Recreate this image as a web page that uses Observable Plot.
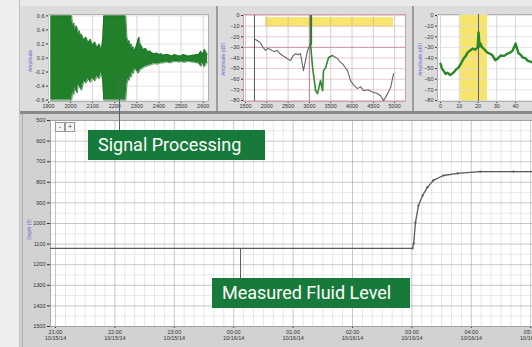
<!DOCTYPE html>
<html><head><meta charset="utf-8">
<script src="https://cdn.jsdelivr.net/npm/d3@7"></script>
<script src="https://cdn.jsdelivr.net/npm/@observablehq/plot@0.6"></script>
<style>
body{margin:0;width:532px;height:347px;overflow:hidden;background:#e9e9e9;position:relative;font-family:Roboto,"Noto Sans",sans-serif}
.abs{position:absolute}
.tag{position:absolute;background:#187a3a;color:#fff;font-family:Roboto,sans-serif;font-size:18px;line-height:30px;height:30px;box-sizing:border-box;padding-left:10px;white-space:nowrap}
.ylab{position:absolute;color:#6a6ad0;font-family:Arial,sans-serif;font-size:5px;transform:rotate(-90deg);transform-origin:left top;white-space:nowrap}
</style></head><body>
<div class="abs" style="left:0;top:0;width:19px;height:347px;background:#ededed;border-right:1px solid #c2c2c2"></div>
<div class="abs" style="left:20px;top:6px;width:512px;height:106px;background:#dcdcdc"></div>
<div class="abs" style="left:216px;top:6px;width:2px;height:106px;background:#9c9c9c"></div>
<div class="abs" style="left:412px;top:6px;width:2px;height:106px;background:#9c9c9c"></div>
<div class="abs" style="left:20px;top:111px;width:512px;height:3px;background:#8a8a8a"></div>
<div class="abs" style="left:20px;top:114px;width:512px;height:233px;background:#d2d2d2"></div>
<div class="abs" style="left:22px;top:114px;width:1px;height:233px;background:#a8a8a8"></div>
<div id="p1" class="abs" style="left:20px;top:8px"></div>
<div id="p2" class="abs" style="left:218px;top:8px"></div>
<div id="p3" class="abs" style="left:414px;top:8px"></div>
<div id="main" class="abs" style="left:22px;top:112px"></div>
<div class="abs" style="left:55px;top:122px;width:8px;height:8px;border:1px solid #999;background:#f4f4f4;font:7px/8px Arial;text-align:center;color:#444">-</div>
<div class="abs" style="left:65px;top:122px;width:8px;height:8px;border:1px solid #999;background:#f4f4f4;font:7px/8px Arial;text-align:center;color:#444">+</div>
<div class="abs" style="left:119px;top:77px;width:1px;height:54px;background:#50626e"></div>
<div class="abs" style="left:240px;top:248px;width:1px;height:31px;background:#50626e"></div>
<div class="ylab" style="left:27px;top:72px">Amplitude</div>
<div class="ylab" style="left:220px;top:76px">Amplitude (dB)</div>
<div class="ylab" style="left:417px;top:76px">Amplitude (dB)</div>
<div class="ylab" style="left:26px;top:240px">Depth (ft)</div>
<div class="tag" style="left:88px;top:130px;width:177px">Signal Processing</div>
<div class="tag" style="left:212px;top:278px;width:198px">Measured Fluid Level</div>
<script>
// ---------- Main chart: fluid level over time ----------
const mainHours = [-0.084, 1.0, 2.0, 3.0, 4.0, 5.0, 5.6, 6.01, 6.03, 6.06, 6.11, 6.18, 6.26, 6.36, 6.53, 6.77, 7.15, 7.71, 8.03];
const mainDepth = [1121, 1121, 1121, 1121, 1121, 1121, 1121, 1121, 1097, 995, 913, 864, 825, 791, 767, 757, 748, 748, 748];
const mainTicks = [0, 1, 2, 3, 4, 5, 6, 7, 8];
const mainTickLabels = ["21:00\n10/15/14","22:00\n10/15/14","23:00\n10/15/14","00:00\n10/16/14","01:00\n10/16/14","02:00\n10/16/14","03:00\n10/16/14","04:00\n10/16/14","05:00\n10/16/14"];
const depthTicks = [500, 600, 700, 800, 900, 1000, 1100, 1200, 1300, 1400, 1500];

// ---------- Panel 1: raw acoustic signal envelope ----------
const sigX  = [0.1, 0.3, 0.5, 0.7, 0.9, 1.05, 1.1, 1.15, 1.2, 1.25, 1.3, 1.35, 1.4, 1.45, 1.5, 1.6, 1.7, 1.8, 1.9, 2.0, 2.1, 2.2, 2.3, 2.4, 2.46, 2.5, 3.0, 3.5, 3.55, 3.6, 3.65, 3.7, 3.75, 3.8, 3.85, 3.9, 4.0, 4.05, 4.1, 4.15, 4.2, 4.3, 4.4, 4.5, 4.6, 4.7, 4.8, 4.9, 5.0, 5.1, 5.2, 5.3, 5.4, 5.5, 5.6, 5.7, 5.8, 5.9, 6.0, 6.1, 6.2, 6.3, 6.4, 6.5, 6.6, 6.7, 6.8, 6.85, 6.9, 6.95, 7.0, 7.05, 7.1, 7.15, 7.2];
const sigHi = [0.6, 0.6, 0.6, 0.6, 0.6, 0.6, 0.45, 0.5, 0.38, 0.46, 0.43, 0.35, 0.39, 0.32, 0.34, 0.26, 0.3, 0.22, 0.27, 0.18, 0.23, 0.15, 0.2, 0.12, 0.3, 0.6, 0.6, 0.6, 0.3, 0.22, 0.25, 0.18, 0.2, 0.14, 0.16, 0.1, 0.2, 0.26, 0.3, 0.2, 0.18, 0.12, 0.14, 0.09, 0.1, 0.07, 0.06, 0.07, 0.05, 0.06, 0.04, 0.05, 0.05, 0.04, 0.03, 0.05, 0.04, 0.03, 0.03, 0.05, 0.04, 0.03, 0.03, 0.04, 0.04, 0.05, 0.05, 0.08, 0.1, 0.06, 0.07, 0.12, 0.11, 0.07, 0.05];
const sigLo = [-0.6, -0.6, -0.6, -0.6, -0.6, -0.6, -0.48, -0.52, -0.42, -0.47, -0.5, -0.38, -0.4, -0.44, -0.46, -0.33, -0.36, -0.3, -0.35, -0.28, -0.33, -0.26, -0.3, -0.2, -0.35, -0.6, -0.6, -0.6, -0.38, -0.3, -0.32, -0.26, -0.27, -0.2, -0.22, -0.15, -0.18, -0.22, -0.2, -0.17, -0.16, -0.14, -0.12, -0.11, -0.1, -0.09, -0.08, -0.09, -0.08, -0.07, -0.07, -0.06, -0.06, -0.07, -0.06, -0.05, -0.05, -0.06, -0.05, -0.06, -0.06, -0.05, -0.05, -0.06, -0.06, -0.07, -0.07, -0.1, -0.12, -0.08, -0.09, -0.13, -0.1, -0.08, -0.06];
const p1Ticks = [0, 1, 2, 3, 4, 5, 6, 7];
const p1TickLabels = ["1900","2000","2100","2200","2300","2400","2500","2600"];
const p1YTicks = [-0.6, -0.4, -0.2, 0, 0.2, 0.4, 0.6];

// ---------- Panel 2: spectrum ----------
const specX = [0.47, 0.58, 0.70, 0.82, 0.94, 1.05, 1.17, 1.33, 1.50, 1.62, 1.74, 1.92, 2.11, 2.23, 2.35, 2.47, 2.58, 2.72, 2.91, 3.05];
const specY = [-22.6, -24, -25.5, -30, -33.0, -31, -32.1, -34, -33.0, -36, -37.7, -40, -42.5, -38, -35.8, -37, -35.8, -51.9, -33.0, -26.4];
const specGX = [3.05, 3.15, 3.29, 3.38, 3.52, 3.62, 3.66, 3.76, 3.90, 4.08];
const specGY = [-26.4, -49.1, -70.8, -73.6, -61.3, -70.8, -51.9, -49.1, -39.6, -37.7];
const spec2X = [4.08, 4.2, 4.32, 4.45, 4.55, 4.68, 4.79, 4.93, 5.1, 5.26, 5.4, 5.54, 5.75, 6.01, 6.15, 6.34, 6.48, 6.67, 6.81, 6.95];
const spec2Y = [-37.7, -39, -40.6, -44, -45.3, -49, -51.9, -61.3, -66, -68.9, -67, -70.8, -70, -72.6, -73, -75.5, -80.2, -73.6, -67.9, -54.7];
const p2Ticks = [0, 1, 2, 3, 4, 5, 6, 7];
const p2TickLabels = ["1500","2000","2500","3000","3500","4000","4500","5000"];
const dbTicks = [0, -10, -20, -30, -40, -50, -60, -70, -80];

// ---------- Panel 3: filtered response ----------
const respX = [0, 0.08, 0.16, 0.27, 0.37, 0.52, 0.69, 0.82, 0.96, 1.1, 1.23, 1.35, 1.44, 1.58, 1.71, 1.85, 1.98, 2.03, 2.09, 2.14, 2.22, 2.30, 2.4, 2.51, 2.65, 2.78, 2.92, 3.05, 3.21, 3.4, 3.58, 3.72, 3.85, 4.01, 4.17, 4.28, 4.39, 4.52, 4.65, 4.92];
const respY = [-45.3, -50, -51.9, -55, -53.8, -56, -53.8, -51, -49.1, -45, -40.6, -38, -34.9, -33, -31.1, -32, -30.2, -16.0, -29.2, -26.4, -30, -31.1, -33, -34.9, -36, -37.7, -42, -40.6, -37.7, -38, -35.8, -35, -33.0, -26.4, -35.8, -37, -39.6, -40, -42.5, -44.3];
const p3Ticks = [0, 1, 2, 3, 4];
const p3TickLabels = ["0","10","20","30","40"];

const axisStyle = {background: "transparent", fontFamily: "Arial, sans-serif", fontSize: "5.5px", color: "#333", overflow: "visible"};

// Main chart
const mainData = mainHours.map((h, i) => ({h, d: mainDepth[i]}));
const minorX = d3.range(-0.0, 8.03, 1/6).filter(v => Math.abs(v - Math.round(v)) > 0.01);
const minorY = d3.range(550, 1500, 100);
document.getElementById("main").append(Plot.plot({
  width: 510, height: 235, marginLeft: 28, marginRight: 0, marginTop: 8, marginBottom: 21,
  style: axisStyle,
  x: {domain: [-0.084, 8.03], ticks: mainTicks, tickFormat: d => mainTickLabels[mainTicks.indexOf(d)], label: null, tickSize: 2, tickPadding: 2},
  y: {domain: [500, 1500], reverse: true, ticks: depthTicks, tickFormat: d => String(d), label: null, tickSize: 3, tickPadding: 2},
  marks: [
    Plot.frame({fill: "white", stroke: "#aaa"}),
    Plot.gridX(minorX, {stroke: "#bbb", strokeOpacity: 0.35}),
    Plot.gridY(minorY, {stroke: "#bbb", strokeOpacity: 0.3}),
    Plot.gridX(mainTicks, {stroke: "#999", strokeOpacity: 0.55}),
    Plot.gridY(depthTicks, {stroke: "#999", strokeOpacity: 0.55}),
    Plot.line(mainData, {x: "h", y: "d", stroke: "#5a5a5a", strokeWidth: 1.3}),
    Plot.dot(mainData.filter(d => d.h > 5.9), {x: "h", y: "d", r: 1.1, fill: "#555"})
  ]
}));

// Panel 1
const sigData = sigX.map((x, i) => ({x, hi: sigHi[i], lo: sigLo[i]}));
document.getElementById("p1").append(Plot.plot({
  width: 196, height: 104, marginLeft: 28, marginRight: 8, marginTop: 6, marginBottom: 11,
  style: axisStyle,
  x: {domain: [0, 7.24], ticks: p1Ticks, tickFormat: d => p1TickLabels[p1Ticks.indexOf(d)], label: null, tickSize: 2, tickPadding: 1},
  y: {domain: [-0.62, 0.62], ticks: p1YTicks, tickFormat: d => d.toFixed(1), label: null, tickSize: 2, tickPadding: 2},
  marks: [
    Plot.frame({fill: "white", stroke: "#b0b0b0"}),
    Plot.gridX(p1Ticks, {stroke: "#ccc", strokeOpacity: 0.8}),
    Plot.gridY(p1YTicks, {stroke: "#ddd", strokeOpacity: 0.8}),
    Plot.areaY(sigData, {x: "x", y1: "lo", y2: "hi", fill: "#22802a"}),
    Plot.lineY(sigData, {x: "x", y: "hi", stroke: "#1c6e22", strokeWidth: 0.7}),
    Plot.lineY(sigData, {x: "x", y: "lo", stroke: "#1c6e22", strokeWidth: 0.7})
  ]
}));

// Panel 2
const specData = specX.map((x, i) => ({x, y: specY[i]}));
const specGData = specGX.map((x, i) => ({x, y: specGY[i]}));
const spec2Data = spec2X.map((x, i) => ({x, y: spec2Y[i]}));
document.getElementById("p2").append(Plot.plot({
  width: 194, height: 104, marginLeft: 25, marginRight: 7, marginTop: 6, marginBottom: 11,
  style: axisStyle,
  x: {domain: [-0.094, 7.51], ticks: p2Ticks, tickFormat: d => p2TickLabels[p2Ticks.indexOf(d)], label: null, tickSize: 2, tickPadding: 1},
  y: {domain: [-81, 1], ticks: dbTicks, label: null, tickSize: 2, tickPadding: 2},
  marks: [
    Plot.frame({fill: "white"}),
    Plot.rect([{x1: 0.94, x2: 6.95, y1: -11, y2: -2}], {x1: "x1", x2: "x2", y1: "y1", y2: "y2", fill: "#f7e46a"}),
    Plot.gridX(p2Ticks, {stroke: "#bbb", strokeOpacity: 0.7}),
    Plot.gridY(dbTicks, {stroke: "#e2c4cc", strokeOpacity: 0.9}),
    Plot.ruleY([-30], {stroke: "#c98a9a", strokeWidth: 0.8}),
    Plot.ruleX([0.42], {stroke: "#555", strokeWidth: 1}),
    Plot.ruleX([3.0], {stroke: "#c87aa0", strokeWidth: 1}),
    Plot.ruleX([3.08], {y1: 1, y2: -28, stroke: "#2a7a2a", strokeWidth: 2}),
    Plot.line(specData, {x: "x", y: "y", stroke: "#666", strokeWidth: 1.1}),
    Plot.line(specGData, {x: "x", y: "y", stroke: "#2e8b2e", strokeWidth: 1.6}),
    Plot.line(spec2Data, {x: "x", y: "y", stroke: "#666", strokeWidth: 1.1}),
    Plot.frame({stroke: "#d49ab8"})
  ]
}));

// Panel 3
const respData = respX.map((x, i) => ({x, y: respY[i]}));
document.getElementById("p3").append(Plot.plot({
  width: 118, height: 104, marginLeft: 23, marginRight: 0, marginTop: 6, marginBottom: 11,
  style: axisStyle,
  x: {domain: [-0.16, 4.91], ticks: p3Ticks, tickFormat: d => p3TickLabels[p3Ticks.indexOf(d)], label: null, tickSize: 2, tickPadding: 1},
  y: {domain: [-81, 1], ticks: dbTicks, label: null, tickSize: 2, tickPadding: 2},
  marks: [
    Plot.frame({fill: "white", stroke: "#b0b0b0"}),
    Plot.rect([{x1: 1.07, x2: 2.51}], {x1: "x1", x2: "x2", fill: "#f7e46a"}),
    Plot.gridX(p3Ticks, {stroke: "#ccc", strokeOpacity: 0.8}),
    Plot.gridY(dbTicks, {stroke: "#ddd", strokeOpacity: 0.8}),
    Plot.ruleX([2.03], {stroke: "#666", strokeWidth: 1}),
    Plot.line(respData, {x: "x", y: "y", stroke: "#2a862a", strokeWidth: 2.4})
  ]
}));
</script>
</body></html>
